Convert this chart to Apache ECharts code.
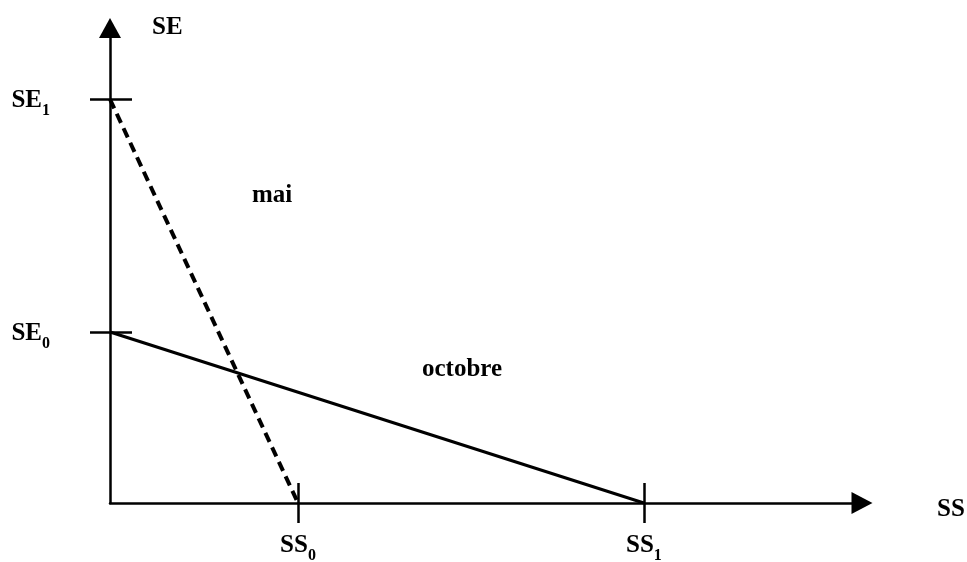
<!DOCTYPE html>
<html lang="fr">
<head>
    <meta charset="UTF-8">
    <title>SE / SS</title>
    <script src="https://cdn.jsdelivr.net/npm/echarts@6/dist/echarts.min.js"></script>
    <style>
        html, body { margin: 0; padding: 0; background: #fff; }
        #main { width: 967px; height: 562px; }
    </style>
</head>
<body>
<div id="main"></div>
<script type="text/javascript">
    // axis ticks (arbitrary units)
    var xTicks = [25, 71];          // SS0, SS1
    var yTicks = [36, 85];          // SE0, SE1
    var xTickNames = {25: ['SS', '0'], 71: ['SS', '1']};
    var yTickNames = {36: ['SE', '0'], 85: ['SE', '1']};

    // the two lines
    var maiLine = [[0, 85], [25, 0]];       // dashed
    var octobreLine = [[0, 36], [71, 0]];   // solid

    var serif = '"Liberation Serif", "DejaVu Serif", serif';
    var rich = {
        b: { fontFamily: serif, fontWeight: 'bold', fontSize: 25, color: '#000', lineHeight: 28, verticalAlign: 'bottom' },
        s: { fontFamily: serif, fontWeight: 'bold', fontSize: 16, color: '#000', lineHeight: 18, verticalAlign: 'bottom', padding: [0, 0, -6, 0] }
    };
    function sub(pair) {
        return '{b|' + pair[0] + '}{s|' + pair[1] + '}';
    }

    var tickStyle = { color: '#000', width: 2.5 };

    var myChart = echarts.init(document.getElementById('main'));
    var option = {
        backgroundColor: '#fff',
        animation: false,
        grid: { left: 110, right: 105, top: 28, bottom: 59, containLabel: false, outerBoundsMode: 'none' },
        xAxis: [{
            type: 'value', min: 0, max: 100, position: 'bottom',
            name: 'SS', nameLocation: 'end', nameGap: 75,
            nameTextStyle: { fontFamily: serif, fontWeight: 'bold', fontSize: 25, color: '#000', verticalAlign: 'top', lineHeight: 14 },
            axisLine: { show: true, symbol: ['none', 'triangle'], symbolSize: [22, 21], symbolOffset: [0, 0], lineStyle: { color: '#000', width: 2.5 } },
            axisTick: { show: true, customValues: xTicks, length: 20, lineStyle: tickStyle },
            axisLabel: { show: true, customValues: xTicks, margin: 27, rich: rich,
                formatter: function (v) { return sub(xTickNames[v]); } },
            splitLine: { show: false }
        }, {
            type: 'value', min: 0, max: 100, position: 'bottom',
            axisLine: { show: false },
            axisTick: { show: true, inside: true, customValues: xTicks, length: 20, lineStyle: tickStyle },
            axisLabel: { show: false },
            splitLine: { show: false }
        }],
        yAxis: [{
            type: 'value', min: 0, max: 100, position: 'left',
            name: 'SE', nameLocation: 'end', nameGap: 0,
            nameTextStyle: { fontFamily: serif, fontWeight: 'bold', fontSize: 25, color: '#000', align: 'left', verticalAlign: 'middle', padding: [0, 0, 0, 42] },
            axisLine: { show: true, symbol: ['none', 'triangle'], symbolSize: [22, 20], symbolOffset: [0, 0], lineStyle: { color: '#000', width: 2.5 } },
            axisTick: { show: true, customValues: yTicks, length: 20, lineStyle: tickStyle },
            axisLabel: { show: true, customValues: yTicks, margin: 60, align: 'right', rich: rich,
                formatter: function (v) { return sub(yTickNames[v]); } },
            splitLine: { show: false }
        }, {
            type: 'value', min: 0, max: 100, position: 'left',
            axisLine: { show: false },
            axisTick: { show: true, inside: true, customValues: yTicks, length: 22, lineStyle: tickStyle },
            axisLabel: { show: false },
            splitLine: { show: false }
        }],
        graphic: [
            { type: 'text', left: 252, top: 183, style: { text: 'mai', font: 'bold 25px ' + serif, fill: '#000' } },
            { type: 'text', left: 422, top: 357, style: { text: 'octobre', font: 'bold 25px ' + serif, fill: '#000' } }
        ],
        series: [{
            name: 'mai', type: 'line', xAxisIndex: 0, yAxisIndex: 0,
            data: maiLine, symbol: 'none',
            lineStyle: { color: '#000', width: 4, type: [10, 6] }
        }, {
            name: 'octobre', type: 'line', xAxisIndex: 0, yAxisIndex: 0,
            data: octobreLine, symbol: 'none',
            lineStyle: { color: '#000', width: 3 }
        }]
    };
    myChart.setOption(option);
</script>
</body>
</html>
